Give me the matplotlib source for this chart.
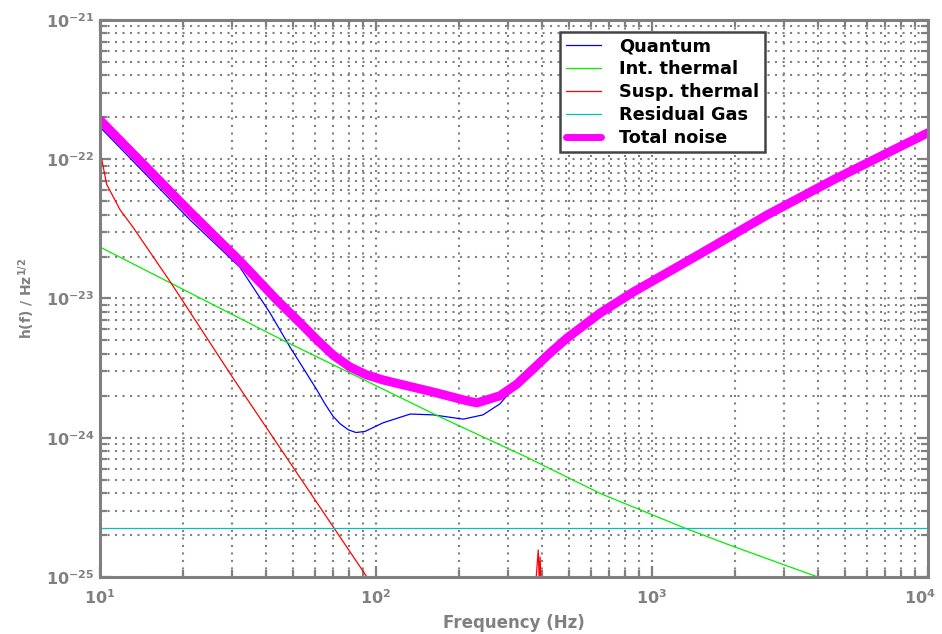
import matplotlib
matplotlib.use('Agg')
import matplotlib.pyplot as plt
import matplotlib.transforms as mtransforms
import numpy as np
from matplotlib.ticker import LogLocator, NullFormatter, FuncFormatter

# (Hz, strain / sqrt(Hz))
quantum_f = [10, 21.2, 32.1, 41.3, 48.8, 61.1, 65.3, 69.8, 74.1, 79.4, 84.6, 91.2, 106, 133,
             161, 207, 244, 281, 313, 371, 427, 492, 649, 853, 1493, 2612, 4529, 10000]
quantum_h = [1.70e-22, 3.66e-23, 1.68e-23, 7.87e-24, 4.47e-24, 2.20e-24, 1.75e-24, 1.43e-24,
             1.26e-24, 1.14e-24, 1.09e-24, 1.11e-24, 1.28e-24, 1.48e-24,
             1.46e-24, 1.36e-24, 1.46e-24, 1.75e-24, 2.25e-24, 3.00e-24, 3.90e-24, 5.00e-24,
             7.55e-24, 1.07e-23, 2.01e-23, 3.82e-23, 6.82e-23, 1.49e-22]

int_f = [10, 46.0, 170.6, 352, 649, 1318, 1966, 2985, 3990]
int_h = [2.34e-23, 5.01e-24, 1.41e-24, 7.24e-25, 3.98e-25, 2.24e-25, 1.66e-25, 1.23e-25, 1.0e-25]

susp_f = [10, 10.57, 11.82, 13.18, 17.95, 30.3, 92.7, 130, 370, 379, 387, 390, 393, 397, 420]
susp_h = [1.15e-22, 6.6e-23, 4.33e-23, 3.24e-23, 1.32e-23, 2.69e-24, 1.0e-25, 3.6e-26,
          5e-26, 9e-26, 1.56e-25, 9.5e-26, 1.39e-25, 8e-26, 4e-26]

gas_f = [10, 10000]
gas_h = [2.25e-25, 2.25e-25]

total_f = [10, 21.2, 32.1, 43.7, 48.8, 53.1, 61.1, 69.8, 80.5, 92.7, 106, 122, 161, 214,
           232, 281, 324, 371, 427, 492, 649, 853, 1493, 2612, 4529, 10000]
total_h = [1.91e-22, 4.18e-23, 1.86e-23, 9.75e-24, 7.87e-24, 6.67e-24, 5.04e-24, 3.93e-24,
           3.22e-24, 2.82e-24, 2.60e-24, 2.43e-24, 2.13e-24, 1.84e-24,
           1.78e-24, 2.00e-24, 2.43e-24, 3.12e-24, 4.06e-24, 5.20e-24, 7.87e-24, 1.11e-23,
           2.09e-23, 3.98e-23, 7.10e-23, 1.55e-22]

x_ticks = [10, 100, 1000, 10000]
y_ticks = [1e-25, 1e-24, 1e-23, 1e-22, 1e-21]

GRAY = '#808080'

fig = plt.figure(figsize=(9.42, 6.34), dpi=100)
ax = fig.add_axes([0.1062, 0.0899, 0.8790, 0.8786])

ax.plot(quantum_f, quantum_h, color='#0000ff', lw=0.9, label='Quantum')
ax.plot(int_f, int_h, color='#00ee00', lw=0.9, label='Int. thermal')
ax.plot(susp_f, susp_h, color='#ff0000', lw=0.9, label='Susp. thermal')
ax.plot(gas_f, gas_h, color='#00c0c0', lw=0.9, label='Residual Gas')
ax.plot(total_f, total_h, color='#ff00ff', lw=6.5, label='Total noise', solid_capstyle='round')

ax.set_xscale('log')
ax.set_yscale('log')
ax.set_xlim(10, 1e4)
ax.set_ylim(1e-25, 1e-21)
ax.set_xticks(x_ticks)
ax.set_yticks(y_ticks)
ax.xaxis.set_minor_locator(LogLocator(base=10, subs=range(2, 10), numticks=20))
ax.yaxis.set_minor_locator(LogLocator(base=10, subs=range(2, 10), numticks=20))
ax.xaxis.set_minor_formatter(NullFormatter())
ax.yaxis.set_minor_formatter(NullFormatter())
powfmt = FuncFormatter(lambda v, p: r'$\mathbf{10^{%d}}$' % round(np.log10(v)))
ax.xaxis.set_major_formatter(powfmt)
ax.yaxis.set_major_formatter(powfmt)

ax.grid(True, which='both', color=GRAY, ls=(0, (1, 2.6)), lw=1.5)
for s in ax.spines.values():
    s.set_color(GRAY)
    s.set_linewidth(2.2)
ax.tick_params(which='both', direction='in', top=True, right=True, color=GRAY,
               labelcolor=GRAY, labelsize=11.5)
ax.tick_params(which='major', length=8, width=1.6)
ax.tick_params(which='minor', length=5, width=1.6)
ax.tick_params(axis='x', pad=8)
ax.tick_params(axis='y', pad=4)

# last x label sits on the right edge; nudge it in a little so it stays on the canvas
last = ax.get_xticklabels()[-1]
last.set_transform(last.get_transform() +
                   mtransforms.ScaledTranslation(-6 / 72, 0, fig.dpi_scale_trans))

ax.set_xlabel('Frequency (Hz)', color=GRAY, fontsize=12, fontweight='bold', labelpad=5)
ax.set_ylabel(r'h(f) / Hz$^{\mathbf{1/2}}$', color=GRAY, fontsize=10, fontweight='bold',
              labelpad=6)

leg = ax.legend(loc='upper left', bbox_to_anchor=(0.556, 0.978), borderaxespad=0,
                fancybox=False, framealpha=1, edgecolor='#444444',
                prop={'size': 12.8, 'weight': 'bold'}, handlelength=2.0,
                handletextpad=1.0, labelspacing=0.27, borderpad=0.3)
leg.get_frame().set_linewidth(1.8)
for line in leg.get_lines():
    if line.get_linewidth() > 3:
        line.set_linewidth(5)

plt.savefig('out.png', dpi=100)
